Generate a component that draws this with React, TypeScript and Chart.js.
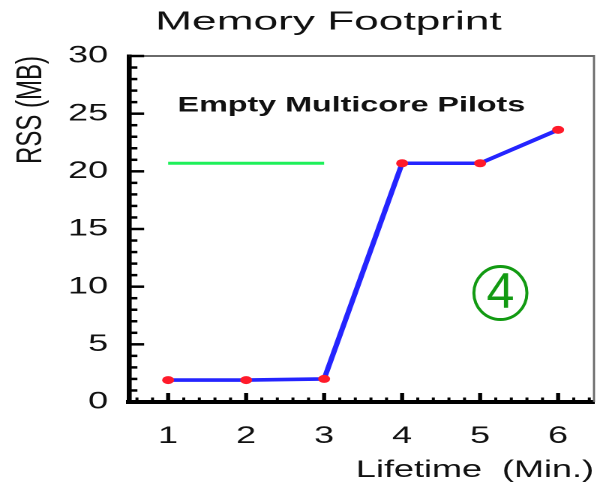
import { useEffect, useRef } from 'react';
import { Chart, registerables } from 'chart.js';

Chart.register(...registerables);

// ---- data ----
const lifetimeMinutes = [1, 2, 3, 4, 5, 6];
const rssMB = [1.9, 1.9, 2.0, 20.7, 20.7, 23.6];
const legendLineX = [1, 3];
const legendLineY = [20.7, 20.7];
const xTickValues = [1, 2, 3, 4, 5, 6];
const yTickValues = [0, 5, 10, 15, 20, 25, 30];

// ---- texts ----
const TITLE = 'Memory Footprint';
const LEGEND_LABEL = 'Empty Multicore Pilots';
const X_TITLE = 'Lifetime  (Min.)';
const Y_TITLE = 'RSS (MB)';
const BADGE_TEXT = '4';

// ---- layout / style ----
const FONT = '"Liberation Sans", Arial, Helvetica, sans-serif';
const DISPLAY_W = 600;
const DISPLAY_H = 483;
const LOGICAL_W = 400; // reference is horizontally stretched 1.5x
const STRETCH = DISPLAY_W / LOGICAL_W;
const LEGEND_TEXT_POS = { x: 3.35, y: 25.7 };
const BADGE_POS = { x: 5.26, y: 9.45 };

Chart.defaults.font.family = FONT;

const decorPlugin = {
  id: 'decor',
  afterDraw(chart: any) {
    const { ctx, chartArea: a, scales } = chart;
    const x = scales.x;
    const y = scales.y;
    ctx.save();

    // frame (top and right)
    ctx.strokeStyle = '#6a6a6a';
    ctx.lineWidth = 2;
    ctx.beginPath();
    ctx.moveTo(a.left, a.top);
    ctx.lineTo(a.right, a.top);
    ctx.stroke();
    ctx.lineWidth = 1.4;
    ctx.beginPath();
    ctx.moveTo(a.right, a.top - 1);
    ctx.lineTo(a.right, a.bottom);
    ctx.stroke();

    // inward ticks on y axis (minor every 1, major every 5)
    ctx.strokeStyle = '#000';
    ctx.lineWidth = 2.5;
    for (let v = y.min; v <= y.max; v += 1) {
      const py = y.getPixelForValue(v);
      const major = v % 5 === 0;
      ctx.beginPath();
      ctx.moveTo(a.left, py);
      ctx.lineTo(a.left + (major ? 10 : 5.5), py);
      ctx.stroke();
    }
    // inward ticks on x axis (minor every 0.2, major every 1)
    for (let i = 3; i <= 32; i++) {
      const v = i / 5;
      const px = x.getPixelForValue(v);
      const major = i % 5 === 0;
      ctx.lineWidth = major ? 2.7 : 2;
      ctx.beginPath();
      ctx.moveTo(px, a.bottom);
      ctx.lineTo(px, a.bottom - (major ? 9 : 4.5));
      ctx.stroke();
    }

    // main title
    ctx.fillStyle = '#111';
    ctx.font = `26px ${FONT}`;
    ctx.textAlign = 'center';
    ctx.textBaseline = 'middle';
    const tw = ctx.measureText(TITLE).width;
    ctx.save();
    ctx.translate(219, 22.5);
    ctx.scale(231 / tw, 1);
    ctx.fillText(TITLE, 0, 0);
    ctx.restore();

    // legend text
    ctx.font = `bold 21.5px ${FONT}`;
    ctx.fillText(LEGEND_LABEL, x.getPixelForValue(LEGEND_TEXT_POS.x), y.getPixelForValue(LEGEND_TEXT_POS.y));

    // circled 4 annotation (not stretched)
    ctx.save();
    ctx.translate(x.getPixelForValue(BADGE_POS.x), y.getPixelForValue(BADGE_POS.y));
    ctx.scale(1 / STRETCH, 1);
    ctx.strokeStyle = '#129a12';
    ctx.fillStyle = '#129a12';
    ctx.lineWidth = 3;
    ctx.beginPath();
    ctx.arc(0, 0, 26.5, 0, Math.PI * 2);
    ctx.stroke();
    ctx.font = `50px ${FONT}`;
    ctx.fillText(BADGE_TEXT, 0, 1);
    ctx.restore();

    ctx.restore();
  },
};

export default function App() {
  const ref = useRef<HTMLCanvasElement | null>(null);

  useEffect(() => {
    const canvas = ref.current;
    if (!canvas) return;
    const chart = new Chart(canvas, {
      type: 'line',
      data: {
        datasets: [
          {
            label: LEGEND_LABEL,
            data: legendLineX.map((v, i) => ({ x: v, y: legendLineY[i] })),
            borderColor: '#1ef05a',
            borderWidth: 3,
            pointRadius: 0,
          },
          {
            label: 'RSS',
            data: lifetimeMinutes.map((v, i) => ({ x: v, y: rssMB[i] })),
            borderColor: '#2424ff',
            borderWidth: 3.6,
            pointRadius: 4,
            pointBackgroundColor: '#ff1a2a',
            pointBorderColor: '#ff1a2a',
            pointBorderWidth: 0,
          },
        ],
      },
      options: {
        responsive: false,
        animation: false,
        devicePixelRatio: 2,
        events: [],
        layout: { padding: { left: 6.6, right: 2, top: 56, bottom: 0 } },
        plugins: {
          legend: { display: false },
          tooltip: { enabled: false },
          title: { display: false },
        },
        scales: {
          x: {
            type: 'linear',
            min: 0.5,
            max: 6.46,
            afterBuildTicks: (s: any) => {
              s.ticks = xTickValues.map((v) => ({ value: v }));
            },
            grid: { display: false, drawTicks: false },
            border: { display: true, color: '#000', width: 4 },
            ticks: { padding: 20, font: { size: 24 }, color: '#111', maxRotation: 0, autoSkip: false },
            title: {
              display: true,
              text: X_TITLE,
              align: 'end',
              font: { size: 24 },
              color: '#111',
              padding: { top: -14.6, bottom: -2 },
            },
          },
          y: {
            type: 'linear',
            min: 0,
            max: 30,
            afterBuildTicks: (s: any) => {
              s.ticks = yTickValues.map((v) => ({ value: v }));
            },
            grid: { display: false, drawTicks: false },
            border: { display: true, color: '#000', width: 3.3 },
            ticks: { padding: 14, font: { size: 24 }, color: '#111', autoSkip: false },
            title: {
              display: true,
              text: Y_TITLE,
              align: 'end',
              font: { size: 24 },
              color: '#111',
              padding: { top: 0, bottom: -4 },
            },
          },
        },
      },
      plugins: [decorPlugin],
    });
    return () => chart.destroy();
  }, []);

  return (
    <div style={{ position: 'absolute', left: 0, top: 0, width: DISPLAY_W, height: DISPLAY_H, background: '#fff' }}>
      <canvas
        ref={ref}
        width={LOGICAL_W}
        height={DISPLAY_H}
        style={{ width: DISPLAY_W, height: DISPLAY_H, display: 'block' }}
      />
    </div>
  );
}
